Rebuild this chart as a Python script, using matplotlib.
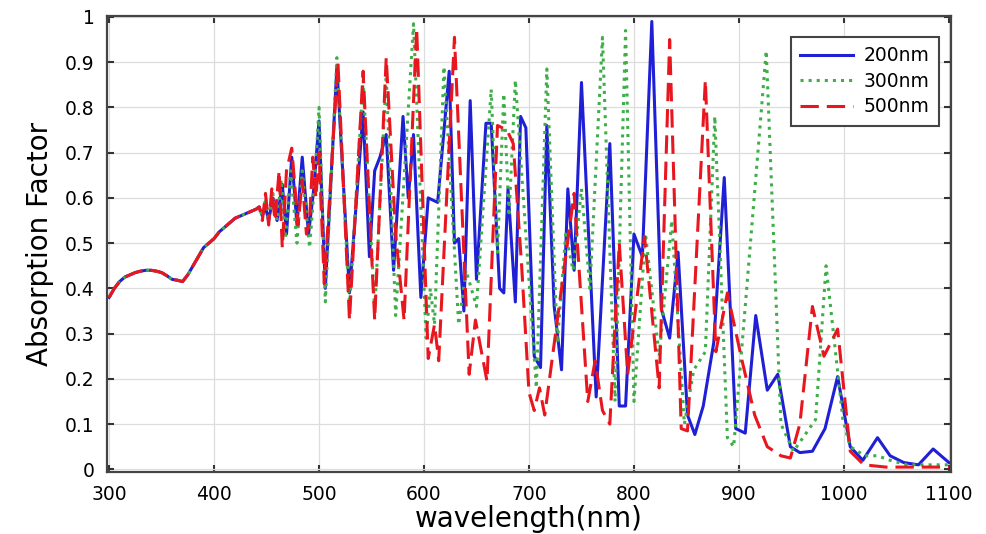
import matplotlib
matplotlib.use("Agg")
import matplotlib.pyplot as plt

# shared part of the spectrum (all three curves coincide below ~440 nm)
wl_common = [300, 305, 310, 315, 320, 325, 330, 335, 340, 345, 350, 355, 360,
             365, 370, 375, 380, 385, 390, 395, 400, 405, 410, 415, 420, 425,
             430, 435, 440]
ab_common = [0.38, 0.40, 0.415, 0.425, 0.43, 0.435, 0.438, 0.44, 0.44, 0.438,
             0.435, 0.428, 0.42, 0.418, 0.415, 0.43, 0.45, 0.47, 0.49, 0.50,
             0.51, 0.525, 0.535, 0.545, 0.555, 0.56, 0.565, 0.57, 0.575]

# 200nm (blue, solid)
wl_200 = [443, 446, 449, 452, 456, 460, 465, 469, 474, 479, 484, 490, 495, 500,
          506, 517, 529, 542, 548, 553, 558, 564, 571, 580, 585, 590, 597, 604,
          613, 624, 629, 633, 638, 644, 650, 659, 664, 672, 676, 680, 687, 692,
          697, 705, 711, 717, 724, 731, 737, 743, 750, 764, 777, 786, 792, 800,
          808, 817, 826, 834, 842, 851, 858, 866, 876, 886, 897, 906, 916, 927,
          937, 949, 958, 970, 982, 994, 1006, 1018, 1032, 1044, 1057, 1071,
          1085, 1100]
ab_200 = [0.58, 0.56, 0.58, 0.55, 0.60, 0.55, 0.63, 0.52, 0.69, 0.54, 0.69,
          0.52, 0.62, 0.77, 0.40, 0.89, 0.39, 0.79, 0.47, 0.66, 0.69, 0.74,
          0.44, 0.78, 0.60, 0.74, 0.38, 0.60, 0.59, 0.88, 0.50, 0.51, 0.35,
          0.815, 0.42, 0.765, 0.765, 0.40, 0.39, 0.62, 0.37, 0.78, 0.755, 0.25,
          0.225, 0.76, 0.36, 0.22, 0.62, 0.44, 0.855, 0.16, 0.72, 0.14, 0.14,
          0.52, 0.47, 0.99, 0.355, 0.29, 0.48, 0.12, 0.077, 0.14, 0.28, 0.645,
          0.09, 0.08, 0.34, 0.175, 0.21, 0.05, 0.037, 0.04, 0.09, 0.205, 0.05,
          0.02, 0.07, 0.03, 0.015, 0.01, 0.045, 0.015]

# 300nm (green, dotted)
wl_300 = [443, 446, 449, 452, 456, 460, 464, 468, 473, 479, 484, 491, 496, 500,
          506, 517, 529, 542, 553, 564, 573, 590, 602, 606, 610, 619, 633, 640,
          650, 664, 670, 676, 681, 687, 707, 717, 727, 735, 742, 750, 758, 770,
          782, 792, 800, 811, 824, 836, 848, 857, 868, 877, 889, 895, 926, 940,
          952, 973, 983, 999, 1006, 1020, 1032, 1044, 1060, 1080, 1100]
ab_300 = [0.58, 0.56, 0.60, 0.55, 0.61, 0.55, 0.64, 0.51, 0.66, 0.50, 0.66,
          0.49, 0.64, 0.80, 0.37, 0.91, 0.36, 0.86, 0.35, 0.87, 0.34, 0.985,
          0.29, 0.40, 0.32, 0.89, 0.32, 0.44, 0.36, 0.84, 0.48, 0.83, 0.56,
          0.86, 0.18, 0.885, 0.28, 0.52, 0.44, 0.62, 0.40, 0.955, 0.15, 0.97,
          0.15, 0.52, 0.25, 0.55, 0.10, 0.22, 0.26, 0.78, 0.07, 0.05, 0.925,
          0.10, 0.04, 0.11, 0.45, 0.11, 0.05, 0.03, 0.03, 0.02, 0.01, 0.01,
          0.01]

# 500nm (red, dashed)
wl_500 = [443, 446, 449, 452, 455, 458, 462, 465, 469, 474, 480, 484, 488, 491,
          494, 497, 500, 505, 518, 529, 542, 553, 564, 573, 581, 593, 604, 610,
          614, 629, 643, 649, 660, 670, 679, 685, 693, 700, 705, 710, 715, 743,
          756, 763, 770, 777, 786, 794, 810, 824, 834, 845, 851, 868, 878, 889,
          902, 915, 927, 940, 949, 958, 970, 981, 994, 1006, 1019, 1040, 1060,
          1080, 1100]
ab_500 = [0.58, 0.55, 0.61, 0.54, 0.62, 0.55, 0.66, 0.49, 0.66, 0.71, 0.54,
          0.64, 0.52, 0.55, 0.69, 0.60, 0.70, 0.41, 0.90, 0.33, 0.88, 0.33,
          0.91, 0.52, 0.33, 0.975, 0.245, 0.32, 0.24, 0.955, 0.21, 0.33, 0.195,
          0.76, 0.75, 0.72, 0.45, 0.17, 0.13, 0.18, 0.12, 0.61, 0.15, 0.24,
          0.13, 0.10, 0.50, 0.21, 0.515, 0.18, 0.95, 0.09, 0.085, 0.86, 0.26,
          0.39, 0.25, 0.12, 0.05, 0.03, 0.025, 0.10, 0.36, 0.25, 0.31, 0.04,
          0.01, 0.005, 0.005, 0.005, 0.005]

series = [("200nm", wl_200, ab_200, "#1f1fd6", "-", None),
          ("300nm", wl_300, ab_300, "#3fae49", ":", None),
          ("500nm", wl_500, ab_500, "#e8161e", "--", (6, 2.6))]

fig = plt.figure(figsize=(9.86, 5.34), dpi=100)
ax = fig.add_axes([0.1085, 0.116, 0.856, 0.854])

for label, wl, ab, color, ls, dashes in series:
    line, = ax.plot(wl_common + wl, ab_common + ab, color=color, linestyle=ls,
                    linewidth=2.2, label=label)
    if dashes:
        line.set_dashes(dashes)

ax.set_xlim(298, 1102)
ax.set_ylim(-0.006, 1.002)
ax.set_xticks(range(300, 1101, 100))
yt = [i / 10 for i in range(11)]
ax.set_yticks(yt, ["0"] + [f"{v:.1f}" for v in yt[1:-1]] + ["1"])
ax.tick_params(direction="in", top=True, right=True, labelsize=13.5, length=5,
               width=1.5, colors="#333333", labelcolor="black")
ax.tick_params(axis="x", pad=9)
ax.tick_params(axis="y", pad=9)
ax.grid(True, color="#dddddd", linewidth=0.9)
for sp in ax.spines.values():
    sp.set_color("#444444")
    sp.set_linewidth(1.6)

ax.set_xlabel("wavelength(nm)", fontsize=20, labelpad=1)
ax.set_ylabel("Absorption Factor", fontsize=20, labelpad=8)

leg = ax.legend(loc="upper right", bbox_to_anchor=(0.997, 0.975), fontsize=13.5,
                fancybox=False, framealpha=1, edgecolor="#444444",
                handlelength=2.8, borderpad=0.5, labelspacing=0.35,
                handletextpad=0.6)
leg.get_frame().set_linewidth(1.5)

fig.savefig("out.png", dpi=100)
